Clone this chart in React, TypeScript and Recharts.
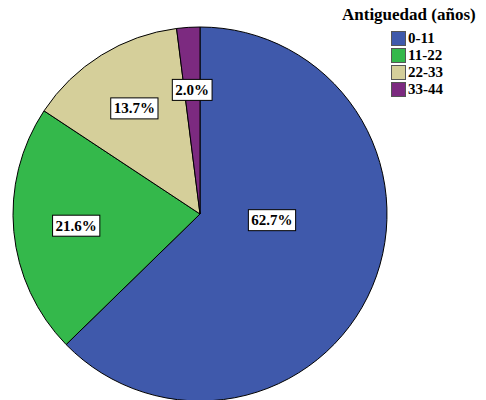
import React from "react";
import { PieChart, Pie, Cell, Legend } from "recharts";

const categories = ["0-11", "11-22", "22-33", "33-44"];
const percents = [62.7, 21.6, 13.7, 2.0];
const colors = ["#3F59AB", "#34B84B", "#D5CF9A", "#7C2A80"];
const legendTitle = "Antiguedad (años)";

const data = categories.map((name, i) => ({ name, value: percents[i] }));

const FONT = "Liberation Serif";

const charWidth = (ch: string) => (ch === "." ? 0.25 : ch === "%" ? 1.0 : 0.5);

const renderLabel = (props: any) => {
  const { cx, cy, midAngle, outerRadius, value } = props;
  const RAD = Math.PI / 180;
  let x: number;
  let y: number;
  if (value > 50) {
    x = cx + outerRadius * 0.385;
    y = cy + outerRadius * 0.033;
  } else {
    const r = outerRadius * 0.665;
    x = cx + r * Math.cos(-midAngle * RAD);
    y = cy + r * Math.sin(-midAngle * RAD);
  }
  const text = `${value.toFixed(1)}%`;
  const fs = 15;
  const tw = text.split("").reduce((s, c) => s + charWidth(c), 0) * fs;
  const w = tw + 6;
  const h = 21;
  return (
    <g>
      <rect x={x - w / 2} y={y - h / 2} width={w} height={h} fill="#ffffff" stroke="#000000" strokeWidth={1} />
      <text x={x} y={y + 5} textAnchor="middle" fontFamily={FONT} fontWeight="bold" fontSize={fs} fill="#000000">
        {text}
      </text>
    </g>
  );
};

const LegendContent = (props: any) => {
  const { payload } = props;
  return (
    <div style={{ fontFamily: `"${FONT}"`, color: "#000" }}>
      <div style={{ fontFamily: `"${FONT}"`, fontWeight: 700, fontSize: 17, lineHeight: "18px", whiteSpace: "nowrap" }}>
        {legendTitle}
      </div>
      <div style={{ paddingLeft: 49, marginTop: 6 }}>
        {(payload || []).map((p: any, i: number) => (
          <div key={i} style={{ display: "flex", alignItems: "center", height: 17 }}>
            <span
              style={{
                display: "inline-block",
                width: 13,
                height: 13,
                background: p.color,
                border: "1px solid #555",
                marginRight: 2,
              }}
            />
            <span style={{ fontFamily: `"${FONT}"`, fontWeight: 700, fontSize: 15, lineHeight: "17px" }}>{p.value}</span>
          </div>
        ))}
      </div>
    </div>
  );
};

export default function App() {
  return (
    <div style={{ position: "fixed", left: 0, top: 0, width: 486, height: 400, background: "#fff", fontFamily: `"${FONT}"` }}>
      <PieChart width={486} height={400} margin={{ top: 0, right: 0, bottom: 0, left: 0 }} style={{ fontFamily: `"${FONT}"` }}>
        <Pie
          data={data}
          dataKey="value"
          nameKey="name"
          cx={200}
          cy={214}
          outerRadius={187}
          startAngle={90}
          endAngle={-270}
          stroke="#000000"
          strokeWidth={1}
          label={renderLabel}
          labelLine={false}
          isAnimationActive={false}
        >
          {data.map((d, i) => (
            <Cell key={d.name} fill={colors[i]} />
          ))}
        </Pie>
        <Legend
          content={<LegendContent />}
          layout="vertical"
          verticalAlign="top"
          align="right"
          wrapperStyle={{ position: "absolute", left: 342, top: 6, width: 144 }}
        />
      </PieChart>
    </div>
  );
}
